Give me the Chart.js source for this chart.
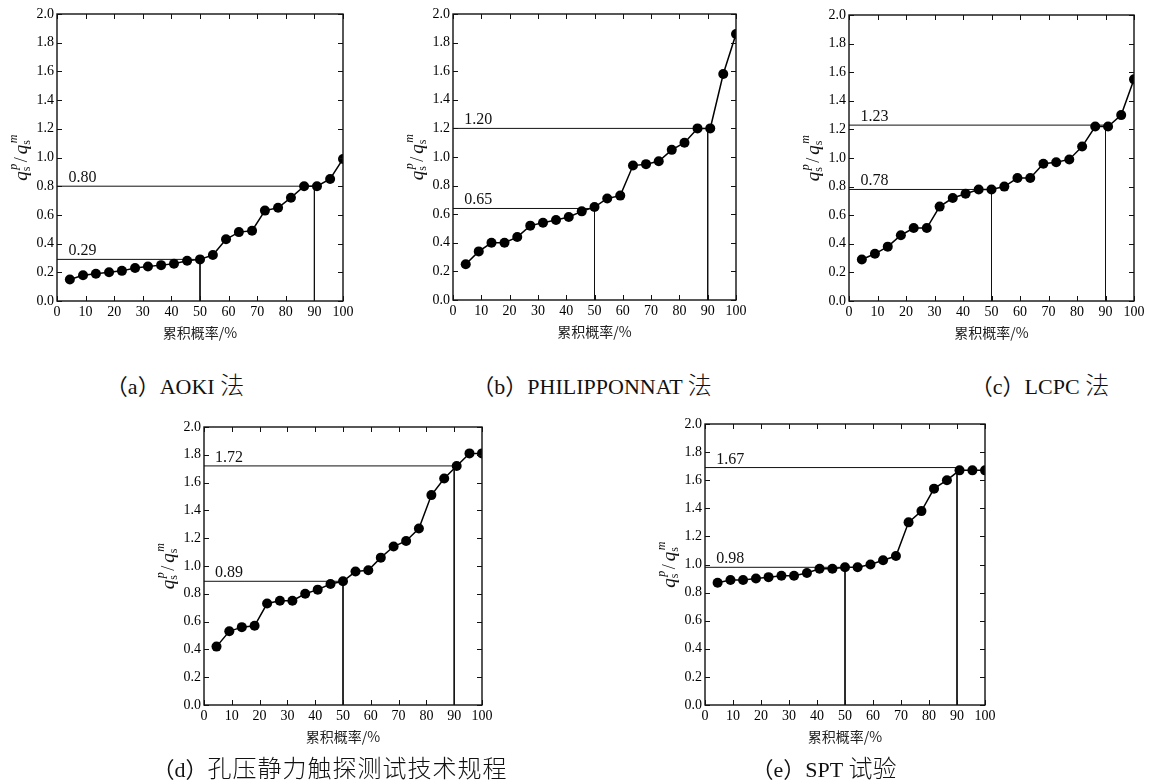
<!DOCTYPE html>
<html>
<head>
<meta charset="utf-8">
<script src="https://cdn.jsdelivr.net/npm/chart.js@4.4.1/dist/chart.umd.min.js"></script>
<style>
  html, body { margin: 0; padding: 0; background: #fff; }
  body { width: 1149px; height: 782px; position: relative; overflow: hidden; }
  canvas { position: absolute; }
  .cap { position: absolute; transform: translate(-50%, -50%); white-space: nowrap;
         font-family: "Liberation Serif", "DejaVu Serif", "Noto Sans CJK SC", serif;
         font-size: 22px; color: #111; line-height: 1; }
  .cap .c { font-size: 24px; font-family: "Noto Sans CJK SC", sans-serif; font-weight: 300; }
</style>
</head>
<body>
<canvas id="cA"></canvas>
<canvas id="cB"></canvas>
<canvas id="cC"></canvas>
<canvas id="cD"></canvas>
<canvas id="cE"></canvas>
<div class="cap" style="left:175px; top:385px;">（a）AOKI <span class="c">法</span></div>
<div class="cap" style="left:592px; top:385px;">（b）PHILIPPONNAT <span class="c">法</span></div>
<div class="cap" style="left:1040px; top:385px;">（c）LCPC <span class="c">法</span></div>
<div class="cap" style="left:330px; top:768px;">（d）<span class="c" style="letter-spacing:1px">孔压静力触探测试技术规程</span></div>
<div class="cap" style="left:824px; top:768px;">（e）SPT <span class="c">试验</span></div>
<script>
// ---- data ----
const probX = [4.5, 9.1, 13.6, 18.2, 22.7, 27.3, 31.8, 36.4, 40.9, 45.5, 50, 54.5, 59.1, 63.6, 68.2, 72.7, 77.3, 81.8, 86.4, 90.9, 95.5, 100];
const xTicks = [0, 10, 20, 30, 40, 50, 60, 70, 80, 90, 100];
const yTicks = [0.0, 0.2, 0.4, 0.6, 0.8, 1.0, 1.2, 1.4, 1.6, 1.8, 2.0];
const refProb = [50, 90];

const aokiY  = [0.15, 0.18, 0.19, 0.20, 0.21, 0.23, 0.24, 0.25, 0.26, 0.28, 0.29, 0.32, 0.43, 0.48, 0.49, 0.63, 0.65, 0.72, 0.80, 0.80, 0.85, 0.99];
const philY  = [0.25, 0.34, 0.40, 0.40, 0.44, 0.52, 0.54, 0.56, 0.58, 0.62, 0.65, 0.71, 0.73, 0.94, 0.95, 0.97, 1.05, 1.10, 1.20, 1.20, 1.58, 1.86];
const lcpcY  = [0.29, 0.33, 0.38, 0.46, 0.51, 0.51, 0.66, 0.72, 0.75, 0.78, 0.78, 0.80, 0.86, 0.86, 0.96, 0.97, 0.99, 1.08, 1.22, 1.22, 1.30, 1.55];
const cptuY  = [0.42, 0.53, 0.56, 0.57, 0.73, 0.75, 0.75, 0.80, 0.83, 0.87, 0.89, 0.96, 0.97, 1.06, 1.14, 1.18, 1.27, 1.51, 1.63, 1.72, 1.81, 1.81];
const sptY   = [0.87, 0.89, 0.89, 0.90, 0.91, 0.92, 0.92, 0.94, 0.97, 0.97, 0.98, 0.98, 1.00, 1.03, 1.06, 1.30, 1.38, 1.54, 1.60, 1.67, 1.67, 1.67];

const aokiRef = [0.29, 0.80],  aokiRefLabel = ['0.29', '0.80'];
const philRef = [0.64, 1.20],  philRefLabel = ['0.65', '1.20'];
const lcpcRef = [0.78, 1.23],  lcpcRefLabel = ['0.78', '1.23'];
const cptuRef = [0.89, 1.72],  cptuRefLabel = ['0.89', '1.72'];
const sptRef  = [0.98, 1.69],  sptRefLabel  = ['0.98', '1.67'];

const xTitle = '累积概率/%';

// ---- drawing ----
const SERIF = '"Liberation Serif", "DejaVu Serif", serif';
const INK = '#111';
const PADL = 56, PADT = 14, PADR = 17, PADB = 46;

const framePlugin = {
  id: 'frame',
  afterDraw(chart) {
    const ctx = chart.ctx, a = chart.chartArea;
    const xs = chart.scales.x, ys = chart.scales.y;
    ctx.save();
    ctx.strokeStyle = INK;
    ctx.lineWidth = 1.4;
    ctx.strokeRect(a.left, a.top, a.right - a.left, a.bottom - a.top);
    ctx.lineWidth = 1;
    const tl = 5;
    ctx.beginPath();
    xTicks.forEach(v => {
      const px = Math.round(xs.getPixelForValue(v)) + 0.5;
      ctx.moveTo(px, a.bottom); ctx.lineTo(px, a.bottom - tl);
      ctx.moveTo(px, a.top); ctx.lineTo(px, a.top + tl);
    });
    yTicks.forEach(v => {
      const py = Math.round(ys.getPixelForValue(v)) + 0.5;
      ctx.moveTo(a.left, py); ctx.lineTo(a.left + tl, py);
      ctx.moveTo(a.right, py); ctx.lineTo(a.right - tl, py);
    });
    ctx.stroke();

    // reference labels
    const o = chart.options.plugins.frame;
    ctx.fillStyle = INK;
    ctx.font = '16px ' + SERIF;
    ctx.textAlign = 'left';
    ctx.textBaseline = 'alphabetic';
    o.refs.forEach((v, i) => {
      ctx.fillText(o.labels[i], xs.getPixelForValue(4.0), ys.getPixelForValue(v) - 4);
    });

    // x title
    ctx.font = '14px "Noto Sans CJK SC", sans-serif';
    ctx.textAlign = 'center';
    ctx.textBaseline = 'middle';
    ctx.fillStyle = '#222';
    ctx.fillText(xTitle, (a.left + a.right) / 2, a.bottom + 32);

    // y title: q_s^p / q_s^m
    ctx.save();
    ctx.translate(a.left - 36, (a.top + a.bottom) / 2);
    ctx.rotate(-Math.PI / 2);
    ctx.fillStyle = INK;
    ctx.textBaseline = 'alphabetic';
    ctx.textAlign = 'left';
    const big = 'italic 19px ' + SERIF, subF = '12px ' + SERIF, supF = 'italic 12px ' + SERIF, slashF = '18px ' + SERIF;
    const measure = (f, t) => { ctx.font = f; return ctx.measureText(t).width; };
    function qpart(sup) {
      const wq = measure(big, 'q');
      const ws = measure(subF, 's');
      const wp = measure(supF, sup);
      return { wq, w2: Math.max(ws + 1, wp + 2), sup };
    }
    const p1 = qpart('p'), p2 = qpart('m');
    const wsl = measure(slashF, '/') + 4;
    const total = p1.wq + p1.w2 + wsl + p2.wq + p2.w2;
    let x = -total / 2;
    const base = 6;
    function drawQ(p) {
      ctx.font = big; ctx.fillText('q', x, base); x += p.wq;
      ctx.font = subF; ctx.fillText('s', x, base + 3);
      ctx.font = supF; ctx.fillText(p.sup, x + 1.5, base - 10);
      x += p.w2;
    }
    drawQ(p1);
    ctx.font = slashF; ctx.fillText('/', x + 1, base); x += wsl;
    drawQ(p2);
    ctx.restore();
    ctx.restore();
  }
};

function makePanel(id, left, top, right, bottom, ys, refs, labels) {
  const cv = document.getElementById(id);
  const W = (right - left) + PADL + PADR;
  const H = (bottom - top) + PADT + PADB;
  cv.width = W; cv.height = H;
  cv.style.left = (left - PADL) + 'px';
  cv.style.top = (top - PADT) + 'px';
  const pts = probX.map((x, i) => ({ x, y: ys[i] }));
  const refSets = refs.map((v, i) => ({
    data: [{ x: 0, y: v }, { x: refProb[i], y: v }, { x: refProb[i], y: 0 }],
    showLine: true, borderColor: INK, borderWidth: 1, pointRadius: 0, clip: 0, order: 2
  }));
  new Chart(cv, {
    type: 'scatter',
    data: {
      datasets: [
        ...refSets,
        { data: pts, showLine: true, borderColor: '#000', borderWidth: 1.5, backgroundColor: '#000',
          pointBackgroundColor: '#000', pointBorderColor: '#000', pointRadius: 5, pointBorderWidth: 0,
          clip: 0, order: 1 }
      ]
    },
    options: {
      responsive: false, animation: false, devicePixelRatio: 1,
      layout: { padding: { left: 0, top: PADT, right: PADR, bottom: 0 } },
      plugins: { legend: { display: false }, tooltip: { enabled: false }, frame: { refs, labels } },
      scales: {
        x: {
          type: 'linear', min: 0, max: 100,
          afterFit(s) { s.height = PADB; },
          afterBuildTicks(s) { s.ticks = xTicks.map(v => ({ value: v })); },
          grid: { display: false, drawTicks: false }, border: { display: false },
          ticks: { padding: 3, color: '#000', font: { family: SERIF, size: 14 }, maxRotation: 0, autoSkip: false }
        },
        y: {
          type: 'linear', min: 0, max: 2,
          afterFit(s) { s.width = PADL; },
          afterBuildTicks(s) { s.ticks = yTicks.map(v => ({ value: v })); },
          grid: { display: false, drawTicks: false }, border: { display: false },
          ticks: { padding: 3, color: '#000', font: { family: SERIF, size: 14 }, autoSkip: false,
                   callback: v => Number(v).toFixed(1) }
        }
      }
    },
    plugins: [framePlugin]
  });
}

makePanel('cA', 57, 14, 343, 301, aokiY, aokiRef, aokiRefLabel);
makePanel('cB', 453, 14, 736, 300, philY, philRef, philRefLabel);
makePanel('cC', 849, 15, 1134, 301, lcpcY, lcpcRef, lcpcRefLabel);
makePanel('cD', 204, 427, 482, 705, cptuY, cptuRef, cptuRefLabel);
makePanel('cE', 705, 424, 985, 705, sptY, sptRef, sptRefLabel);
</script>
</body>
</html>
